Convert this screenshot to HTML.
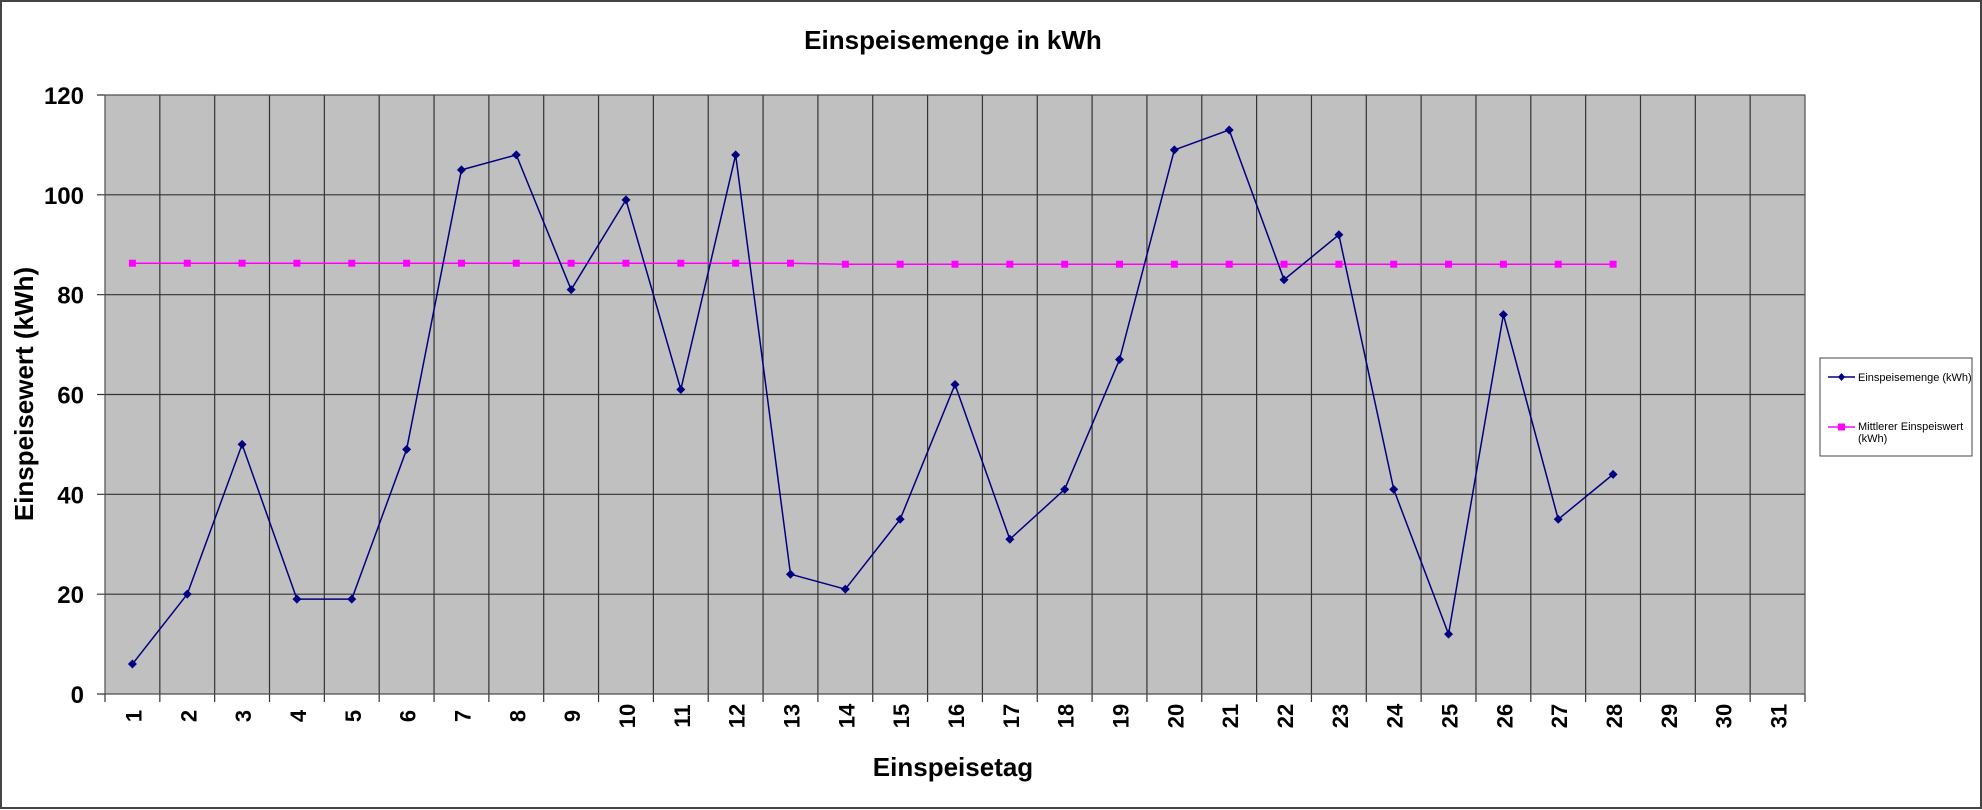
<!DOCTYPE html>
<html><head><meta charset="utf-8"><style>
body{margin:0;background:#fff}
svg{display:block;font-family:"Liberation Sans",Arial,sans-serif}
</style></head><body>
<svg width="1982" height="810" viewBox="0 0 1982 810" id="c">
<rect x="1" y="1" width="1980" height="807" fill="#fff" stroke="#444" stroke-width="2"/>
<text x="953" y="49" text-anchor="middle" font-size="26" font-weight="bold">Einspeisemenge in kWh</text>
<rect x="105" y="95" width="1700" height="599" fill="#c0c0c0"/>
<g id="grid"></g>
<g id="series"></g>
<text x="953" y="776" text-anchor="middle" font-size="26" font-weight="bold">Einspeisetag</text>
<text transform="translate(33,394) rotate(-90)" text-anchor="middle" font-size="26" font-weight="bold">Einspeisewert  (kWh)</text>
<g>
<rect x="1820" y="358" width="152" height="98" fill="#fff" stroke="#444" stroke-width="1"/>
<line x1="1828" y1="377" x2="1855" y2="377" stroke="#000080" stroke-width="1.5"/>
<path d="M1841.5 373 L1845 377 L1841.5 381 L1838 377Z" fill="#000080"/>
<text x="1858" y="381" font-size="11" fill="#000">Einspeisemenge (kWh)</text>
<line x1="1828" y1="427" x2="1855" y2="427" stroke="#ff00ff" stroke-width="1.5"/>
<rect x="1838" y="423.5" width="7" height="7" fill="#ff00ff"/>
<text x="1858" y="430" font-size="11">Mittlerer Einspeiswert</text>
<text x="1858" y="442" font-size="11">(kWh)</text>
</g>
</svg>
<script>
const categories = Array.from({length:31},(_, i)=>String(i+1));
const einspeisemenge = [6,20,50,19,19,49,105,108,81,99,61,108,24,21,35,62,31,41,67,109,113,83,92,41,12,76,35,44];
const mittlerer = [86.3,86.3,86.3,86.3,86.3,86.3,86.3,86.3,86.3,86.3,86.3,86.3,86.3,86.1,86.1,86.1,86.1,86.1,86.1,86.1,86.1,86.1,86.1,86.1,86.1,86.1,86.1,86.1];
const yTicks = [0,20,40,60,80,100,120];
const NS='http://www.w3.org/2000/svg';
const L=105,R=1805,T=95,B=694,yMax=120;
const bw=(R-L)/categories.length;
const xs=i=>L+bw*(i+0.5);
const ys=v=>B-(v/yMax)*(B-T);
const grid=document.getElementById('grid'), ser=document.getElementById('series');
function mk(tag,attrs,parent){const e=document.createElementNS(NS,tag);for(const k in attrs)e.setAttribute(k,attrs[k]);parent.appendChild(e);return e;}
yTicks.forEach(t=>{
  const y=ys(t);
  const l=mk('line',{x1:L-8,x2:R,y1:y,y2:y,stroke:'#333','stroke-width':1.2},grid);
  
  
  const tx=mk('text',{x:84,y:y+9,'text-anchor':'end','font-size':24,'font-weight':'bold'},grid);
  
  
  tx.textContent=t;
});
for(let i=0;i<=categories.length;i++){
  const x=L+bw*i;
  const l=mk('line',{x1:x,x2:x,y1:T,y2:B+8,stroke:'#333','stroke-width':1.2},grid);
  
  
}
mk('rect',{x:L,y:T,width:R-L,height:B-T,fill:'none',stroke:'#555','stroke-width':1},grid);
categories.forEach((c,i)=>{
  const tx=mk('text',{transform:`translate(${xs(i)+9},716) rotate(-90)`,'text-anchor':'middle','font-size':22,'font-weight':'bold'},grid);
  
  
  tx.textContent=c;
});
const pm=mk('polyline',{points:mittlerer.map((v,i)=>xs(i)+','+ys(v)).join(' '),fill:'none',stroke:'#ff00ff','stroke-width':1.5},ser);


mittlerer.forEach((v,i)=>{
  const r=mk('rect',{x:xs(i)-3.5,y:ys(v)-3.5,width:7,height:7,fill:'#ff00ff'},ser);
  
  
});
const pe=mk('polyline',{points:einspeisemenge.map((v,i)=>xs(i)+','+ys(v)).join(' '),fill:'none',stroke:'#000080','stroke-width':1.5},ser);


einspeisemenge.forEach((v,i)=>{
  const x=xs(i),y=ys(v);
  const p=mk('path',{d:`M${x} ${y-4.5}L${x+4.5} ${y}L${x} ${y+4.5}L${x-4.5} ${y}Z`,fill:'#000080'},ser);
  
  
});
</script>
</body></html>
